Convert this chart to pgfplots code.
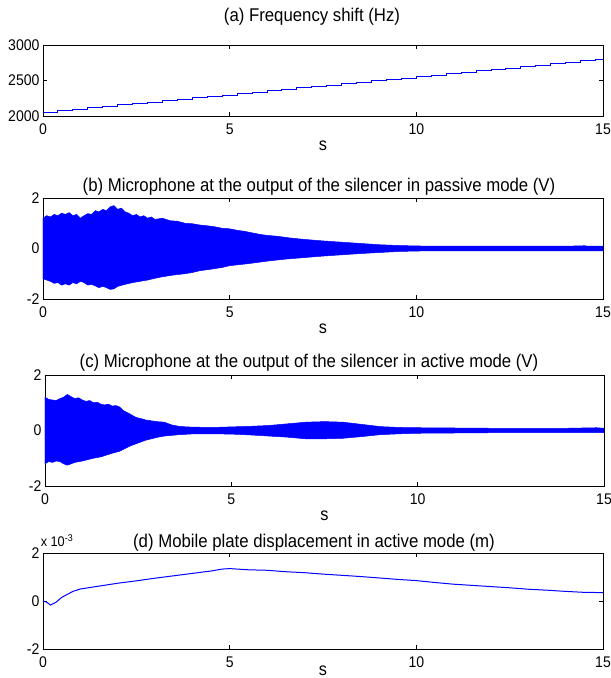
\documentclass[border=0pt]{standalone}
\usepackage{fontspec}
\setmainfont{Liberation Sans}[FakeStretch=0.91]
\usepackage{pgfplots}
\pgfplotsset{compat=1.18}

\pgfplotsset{
  panel/.style={
    scale only axis, width=560bp, anchor=south west,
    xmin=0, xmax=15, xtick={0,5,10,15},
    ymin=-2, ymax=2, ytick={-2,0,2},
    tick align=inside, major tick length=4bp,
    tick style={black, line width=0.6bp},
    axis line style={line width=0.8bp},
    ticklabel style={font=\fontsize{15.5}{15.5}\selectfont},
    xticklabel style={yshift=-4bp},
    /pgf/number format/assume math mode=true,
    xlabel={s},
    xlabel style={at={(axis description cs:0.5,0)}, anchor=center,
      yshift=-30bp, font=\fontsize{18}{18}\selectfont},
  },
}
\tikzset{ttl/.style={font=\fontsize{18.5}{19}\selectfont}}

\begin{document}
\begin{tikzpicture}
\useasboundingbox (0,0) rectangle (611bp,678bp);

% (a) frequency shift
\begin{axis}[panel, at={(43bp,562bp)}, height=71bp,
  ymin=2000, ymax=3000, ytick={2000,2500,3000},
  yticklabels={2000,2500,3000}]
\addplot[blue, line width=1bp, const plot] coordinates {
 (0,2055) (0.4,2075) (0.8,2095) (1.2,2115) (1.6,2135) (2.0,2155)
 (2.4,2175) (2.8,2195) (3.2,2215) (3.6,2235) (4.0,2255) (4.4,2275)
 (4.8,2295) (5.2,2315) (5.6,2335) (6.0,2355) (6.4,2375) (6.8,2395)
 (7.2,2415) (7.6,2435) (8.0,2455) (8.4,2475) (8.8,2495) (9.2,2515)
 (9.6,2535) (10.0,2555) (10.4,2575) (10.8,2595) (11.2,2615) (11.6,2635)
 (12.0,2655) (12.4,2675) (12.8,2695) (13.2,2715) (13.6,2735) (14.0,2755)
 (14.4,2775) (14.8,2795) (15,2795)};
\end{axis}

% (b) passive mode: envelope of the microphone signal
\begin{axis}[panel, at={(43bp,379bp)}, height=101bp]
\addplot[blue, fill=blue, line width=0.5bp] coordinates {
 (0,1.2) (0.1,1.3) (0.2,1.25) (0.3,1.35) (0.4,1.3) (0.5,1.4) (0.6,1.35)
 (0.7,1.42) (0.8,1.3) (0.9,1.35) (1.0,1.2) (1.1,1.3) (1.2,1.38) (1.3,1.35)
 (1.4,1.5) (1.5,1.45) (1.6,1.55) (1.7,1.5) (1.8,1.65) (1.9,1.7) (2.0,1.55)
 (2.1,1.6) (2.2,1.45) (2.3,1.4) (2.4,1.3) (2.5,1.35) (2.6,1.25) (2.7,1.3)
 (2.8,1.2) (2.9,1.25) (3.0,1.15) (3.2,1.2) (3.4,1.1) (3.6,1.08) (3.8,1.0)
 (4.0,0.98) (4.2,0.93) (4.4,0.9) (4.6,0.86) (4.8,0.8) (5.0,0.78) (5.2,0.72)
 (5.4,0.68) (5.6,0.62) (5.8,0.56) (6.0,0.52) (6.3,0.48) (6.6,0.42) (7.0,0.36)
 (7.5,0.3) (8.0,0.25) (8.5,0.2) (9.0,0.15) (9.5,0.12) (10,0.1) (11,0.09)
 (12,0.09) (13,0.09) (14,0.09) (14.5,0.11) (14.6,0.09) (15,0.09)
 (15,-0.09) (14,-0.09) (12,-0.09) (11,-0.09) (10,-0.1) (9.5,-0.12) (9,-0.16)
 (8.5,-0.2) (8,-0.25) (7.5,-0.3) (7,-0.36) (6.5,-0.42) (6,-0.5) (5.5,-0.6)
 (5,-0.68) (4.8,-0.75) (4.5,-0.82) (4.2,-0.88) (4,-0.95) (3.8,-1.0) (3.5,-1.05)
 (3.2,-1.12) (3.0,-1.18) (2.8,-1.25) (2.6,-1.3) (2.4,-1.35) (2.2,-1.42)
 (2.0,-1.5) (1.9,-1.6) (1.8,-1.62) (1.7,-1.55) (1.6,-1.5) (1.5,-1.55)
 (1.4,-1.48) (1.3,-1.42) (1.2,-1.45) (1.1,-1.35) (1.0,-1.3) (0.9,-1.4)
 (0.8,-1.35) (0.7,-1.45) (0.6,-1.4) (0.5,-1.45) (0.4,-1.35) (0.3,-1.38)
 (0.2,-1.3) (0.1,-1.25) (0,-1.2)} -- cycle;
\end{axis}

% (c) active mode: envelope of the microphone signal
\begin{axis}[panel, at={(45bp,192bp)}, height=111bp, width=559bp]
\addplot[blue, fill=blue, line width=0.5bp] coordinates {
 (0,1.2) (0.1,1.12) (0.2,1.1) (0.3,1.08) (0.4,1.15) (0.5,1.2) (0.6,1.3)
 (0.7,1.22) (0.8,1.15) (0.9,1.18) (1.0,1.1) (1.1,1.05) (1.2,1.08) (1.3,1.0)
 (1.4,1.02) (1.5,0.95) (1.6,0.92) (1.7,0.95) (1.8,0.88) (1.9,0.9) (2.0,0.85)
 (2.1,0.72) (2.2,0.65) (2.3,0.58) (2.4,0.5) (2.5,0.45) (2.6,0.42) (2.7,0.38)
 (2.8,0.36) (3.0,0.32) (3.2,0.3) (3.4,0.2) (3.6,0.15) (3.8,0.13) (4.0,0.12)
 (4.5,0.11) (5.0,0.13) (5.5,0.15) (6.0,0.18) (6.5,0.24) (7.0,0.3) (7.5,0.32)
 (8.0,0.3) (8.5,0.22) (9.0,0.14) (9.5,0.11) (10,0.1) (11,0.09) (12,0.08)
 (13,0.08) (14,0.08) (14.8,0.1) (15,0.08)
 (15,-0.08) (14,-0.08) (13,-0.08) (12,-0.08) (11,-0.09) (10,-0.1) (9.5,-0.12)
 (9,-0.15) (8.5,-0.22) (8,-0.28) (7.5,-0.3) (7,-0.3) (6.5,-0.24) (6,-0.2)
 (5.5,-0.16) (5,-0.13) (4.5,-0.12) (4,-0.12) (3.6,-0.15) (3.2,-0.2) (3.0,-0.25)
 (2.7,-0.35) (2.5,-0.45) (2.3,-0.55) (2.1,-0.68) (2.0,-0.75) (1.8,-0.82)
 (1.5,-0.95) (1.3,-1.0) (1.0,-1.1) (0.8,-1.15) (0.6,-1.25) (0.5,-1.2)
 (0.4,-1.12) (0.3,-1.1) (0.2,-1.15) (0.1,-1.12) (0,-1.2)} -- cycle;
\end{axis}

% (d) mobile plate displacement (x 10^-3 m)
\begin{axis}[panel, at={(43bp,29bp)}, height=96bp,
  xlabel style={yshift=8bp}]
\addplot[blue, line width=1bp] coordinates {
 (0,0.0) (0.1,-0.05) (0.2,-0.17) (0.35,-0.05) (0.5,0.15) (0.8,0.4)
 (1.0,0.5) (1.5,0.62) (2.0,0.74) (2.5,0.84) (3.0,0.95) (3.5,1.05)
 (4.0,1.15) (4.5,1.25) (4.8,1.33) (5.0,1.35) (5.5,1.3) (6.0,1.28)
 (6.5,1.22) (7.0,1.18) (7.5,1.12) (8.0,1.07) (8.5,1.02) (9.0,0.96)
 (9.5,0.9) (10.0,0.85) (10.5,0.77) (11.0,0.7) (11.5,0.65) (12.0,0.6)
 (12.5,0.55) (13.0,0.49) (13.5,0.45) (14.0,0.4) (14.5,0.36) (15.0,0.35)};
\end{axis}

\node[ttl] at (312bp,661bp) {(a) Frequency shift (Hz)};
\node[ttl] at (319bp,491bp) {(b) Microphone at the output of the silencer in passive mode (V)};
\node[ttl] at (309bp,315bp) {(c) Microphone at the output of the silencer in active mode (V)};
\node[ttl] at (314bp,135bp) {(d) Mobile plate displacement in active mode (m)};
\node[font=\fontsize{14}{14}\selectfont] at (57bp,137bp) {x 10\textsuperscript{-3}};
\end{tikzpicture}
\end{document}
